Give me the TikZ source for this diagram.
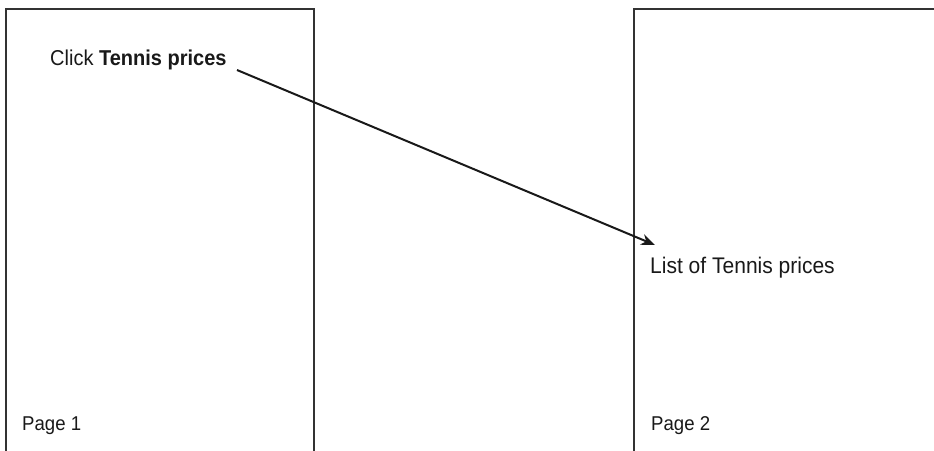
\documentclass[tikz,border=0pt]{standalone}
\usepackage{fontspec}
\setmainfont{Liberation Sans}[FakeStretch=0.93]
\usetikzlibrary{arrows.meta}
\begin{document}
\begin{tikzpicture}[x=1pt,y=-1pt,
  page/.style={draw=black!80,line width=2pt},
  lbl/.style={inner sep=0pt,anchor=base west,font=\fontsize{21}{24}\selectfont,text=black!90},
  link/.style={line width=2pt,draw=black!90,-{Stealth[length=14pt,width=11pt]}}]
\useasboundingbox (0,0) rectangle (934,450);
\draw[page] (6,460) -- (6,9) -- (314,9) -- (314,460);
\draw[page] (634,460) -- (634,9) -- (945,9);
\node[lbl,font=\fontsize{21.5}{24}\selectfont] (click) at (50,65) {Click \textbf{Tennis prices}};
\node[lbl,font=\fontsize{22.6}{26}\selectfont] (list) at (650,273) {List of Tennis prices};
\node[lbl,font=\fontsize{20}{24}\selectfont] (p1) at (22,430) {Page 1};
\node[lbl,font=\fontsize{20}{24}\selectfont] (p2) at (651,430) {Page 2};
\coordinate (s) at (237,70);
\coordinate (e) at (655,245);
\draw[link] (s) -- (e);
\end{tikzpicture}
\end{document}
